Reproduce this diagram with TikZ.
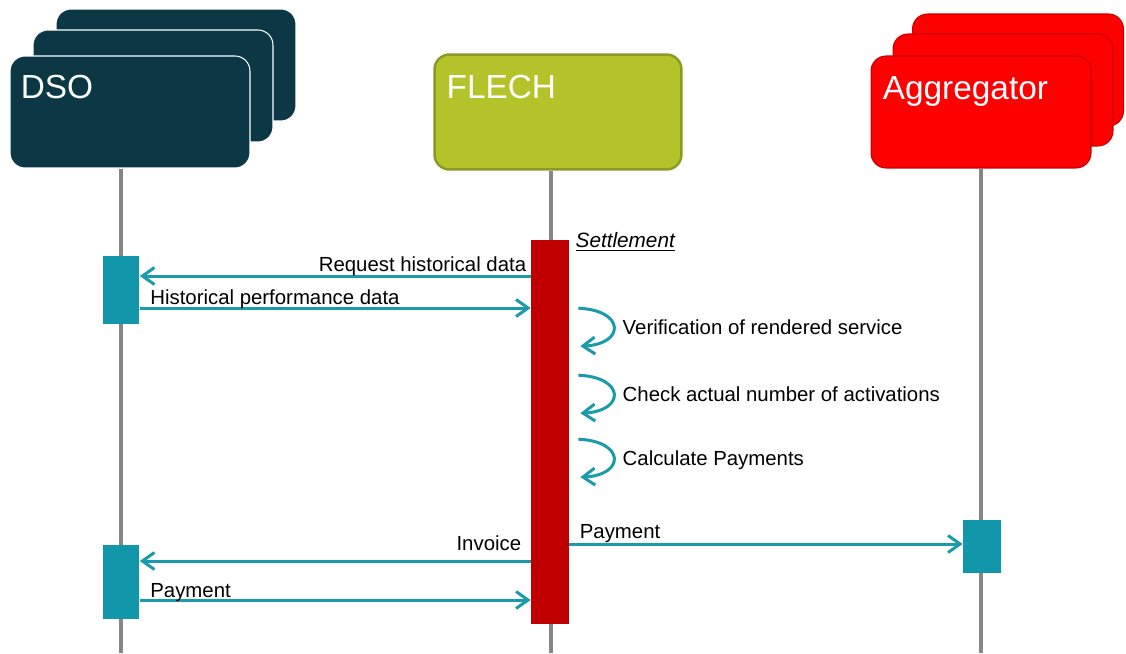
\documentclass[tikz,border=0pt]{standalone}
\usepackage{fontspec}
\setmainfont{Liberation Sans}
\usetikzlibrary{arrows.meta}

\definecolor{dsoblue}{HTML}{0C3846}
\definecolor{flechgreen}{HTML}{B5C32A}
\definecolor{flechedge}{HTML}{8D9922}
\definecolor{aggred}{HTML}{FF0000}
\definecolor{aggedge}{HTML}{C80000}
\definecolor{barred}{HTML}{C00000}
\definecolor{actteal}{HTML}{1296A9}
\definecolor{msgteal}{HTML}{1A9BAB}
\definecolor{lifegray}{HTML}{868686}

\tikzset{
  actor/.style={rounded corners=0.3cm, minimum width=4.8cm, minimum height=2.24cm, inner sep=0pt},
  title/.style={text=white, font=\fontsize{19}{22}\selectfont, anchor=base west, inner sep=0pt},
  lifeline/.style={draw=lifegray, line width=0.08cm},
  bar/.style={minimum width=0.76cm, inner sep=0pt, draw=none},
  msg/.style={draw=msgteal, line width=0.06cm, -{Straight Barb[length=0.24cm,width=0.34cm]}},
  lbl/.style={font=\fontsize{11.6}{14}\selectfont, inner sep=0pt},
}

\begin{document}
\begin{tikzpicture}[x=0.02cm, y=-0.02cm]
\useasboundingbox (0,0) rectangle (1126,653);

\node[actor, fill=dsoblue, draw=white, line width=0.6pt] (dso3) at (176,65) {};
\node[actor, fill=dsoblue, draw=white, line width=0.6pt] (dso2) at (153,86) {};
\node[actor, fill=dsoblue, draw=white, line width=0.6pt] (dso) at (130,112) {};
\node[actor, fill=flechgreen, draw=flechedge, line width=0.05cm, minimum width=4.94cm, minimum height=2.3cm] (flech) at (558,112) {};
\node[actor, fill=aggred, draw=aggedge, line width=0.6pt, minimum width=4.22cm] (agg3) at (1018,70) {};
\node[actor, fill=aggred, draw=aggedge, line width=0.6pt, minimum width=4.4cm] (agg2) at (1003,90) {};
\node[actor, fill=aggred, draw=aggedge, line width=0.6pt, minimum width=4.4cm] (agg) at (981,112) {};

\node[title] (dsotitle) at ([shift={(11,43)}]dso.north west) {DSO};
\node[title] (flechtitle) at ([shift={(13,45)}]flech.north west) {FLECH};
\node[title] (aggtitle) at ([shift={(12,44)}]agg.north west) {Aggregator};

\coordinate (dsoend) at (121,653);
\coordinate (flechend) at (551,653);
\coordinate (aggend) at (981,653);
\draw[lifeline] (dso.south -| dsoend) -- (dsoend);
\draw[lifeline] (flech.south -| flechend) -- (flechend);
\draw[lifeline] (agg.south -| aggend) -- (aggend);

\node[bar, fill=barred, minimum height=7.7cm] (flechbar) at (550,432) {};
\node[bar, fill=actteal, minimum width=0.74cm, minimum height=1.36cm] (dsoact1) at (dsoend |- 0,290) {};
\node[bar, fill=actteal, minimum width=0.74cm, minimum height=1.48cm] (dsoact2) at (dsoend |- 0,582) {};
\node[bar, fill=actteal, minimum height=1.06cm] (aggact) at (982,546) {};

\node[lbl, anchor=base west, font=\fontsize{11.8}{14}\selectfont\itshape] (settle) at ([shift={(6,8)}]flechbar.north east) {\underline{Settlement}};

\draw[msg] (flechbar.west |- 0,276) node[lbl, anchor=base east, shift={(-3,-5)}] (reqlbl) {Request historical data} -- (dsoact1.east |- 0,276);
\draw[msg] (dsoact1.east |- 0,308) node[lbl, anchor=base west, shift={(9,-4)}] (histlbl) {Historical performance data} -- (flechbar.west |- 0,308);
\draw[msg] (flechbar.west |- 0,561) node[lbl, anchor=base east, shift={(-8,-11)}] (invlbl) {Invoice} -- (dsoact2.east |- 0,561);
\draw[msg] (dsoact2.east |- 0,600) node[lbl, anchor=base west, shift={(9,-3)}] (paylbl) {Payment} -- (flechbar.west |- 0,600);
\draw[msg] (flechbar.east |- 0,544) node[lbl, anchor=base west, shift={(9,-6)}] (aggpaylbl) {Payment} -- (aggact.west |- 0,544);

\foreach \y/\txt [count=\i] in {309/Verification of rendered service, 376/Check actual number of activations, 440/Calculate Payments}{
  \coordinate (loop\i a) at ([shift={(9,\y-240)}]flechbar.north east);
  \coordinate (loop\i b) at ([shift={(11,\y-202)}]flechbar.north east);
  \draw[msg] (loop\i a) .. controls ([shift={(47,2)}]loop\i a) and ([shift={(45,-2)}]loop\i b) .. (loop\i b);
  \node[lbl, anchor=base west] (chk\i) at ([shift={(44,26)}]loop\i a) {\txt};
}
\end{tikzpicture}
\end{document}
